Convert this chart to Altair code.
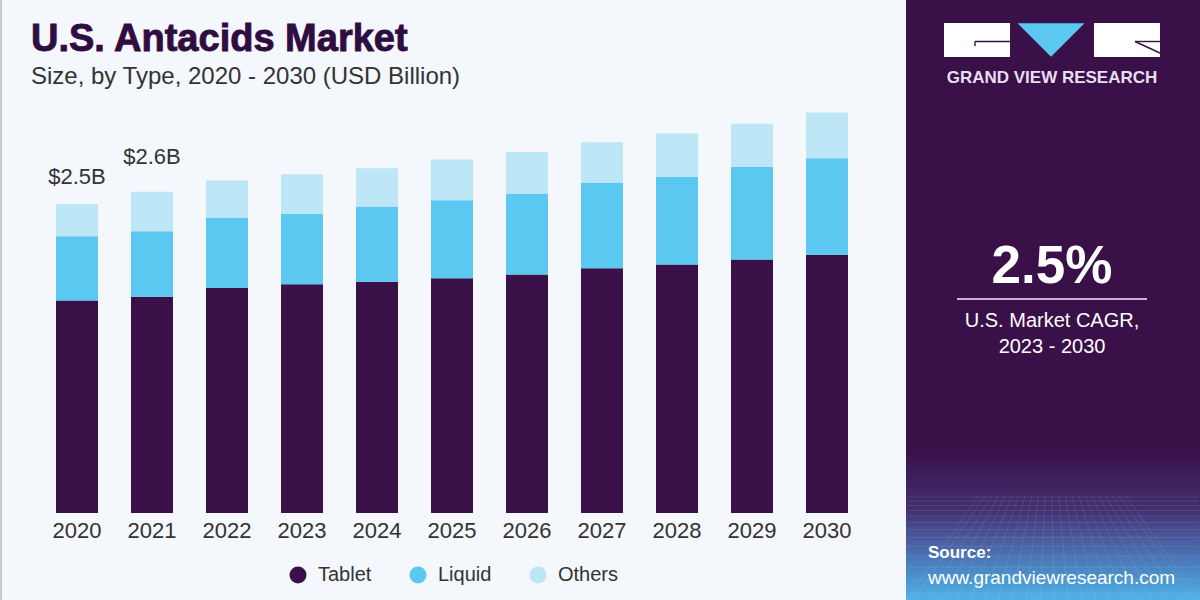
import altair as alt
import pandas as pd

# ---- data (USD billion) ----
years = ["2020", "2021", "2022", "2023", "2024", "2025", "2026", "2027", "2028", "2029", "2030"]
tablet = [1.72, 1.75, 1.82, 1.85, 1.87, 1.90, 1.93, 1.98, 2.01, 2.05, 2.09]
liquid = [0.52, 0.53, 0.57, 0.57, 0.61, 0.63, 0.65, 0.69, 0.71, 0.75, 0.78]
others = [0.26, 0.32, 0.30, 0.32, 0.31, 0.33, 0.34, 0.33, 0.35, 0.35, 0.37]
segments = ["Tablet", "Liquid", "Others"]
seg_colors = ["#3a1048", "#5bc8f2", "#bde6f7"]
labeled_years = ["2020", "2021"]

FONT = "Liberation Sans"
BG = "#f4f7fb"
PANEL = "#3a1049"

rows = []
for i, y in enumerate(years):
    for k, (name, vals) in enumerate(zip(segments, [tablet, liquid, others])):
        rows.append({"year": y, "type": name, "value": vals[i], "order": k})
long_df = pd.DataFrame(rows)
totals_df = pd.DataFrame({
    "year": years,
    "total": [round(a + b + c, 2) for a, b, c in zip(tablet, liquid, others)],
})

x_scale = alt.Scale(domain=years, range=[56, 848], paddingInner=0.44, paddingOuter=0)
y_scale = alt.Scale(domain=[0, 3.5], range=[513, 80.4])

# ---- stacked bars ----
bars = alt.Chart(long_df).mark_bar().encode(
    x=alt.X("year:N", scale=x_scale, axis=None),
    y=alt.Y("value:Q", stack="zero", scale=y_scale, axis=None),
    color=alt.Color(
        "type:N",
        scale=alt.Scale(domain=segments, range=seg_colors),
        legend=alt.Legend(
            orient="none", legendX=288, legendY=565, direction="horizontal",
            title=None, symbolType="circle", symbolSize=289, symbolStrokeWidth=0,
            symbolOpacity=1, labelFont=FONT, labelFontSize=20, labelColor="#333333",
            labelOffset=10, columnPadding=36,
        ),
    ),
    order=alt.Order("order:Q"),
)

# year labels under the bars
year_labels = alt.Chart(totals_df).mark_text(
    font=FONT, fontSize=22, color="#333333", baseline="middle"
).encode(
    x=alt.X("year:N", scale=x_scale, axis=None),
    y=alt.value(531),
    text="year:N",
)

# total value labels
def total_label(year, dy):
    return alt.Chart(totals_df).transform_filter(
        alt.datum.year == year
    ).transform_calculate(
        lbl="'$' + format(datum.total, '.1f') + 'B'"
    ).mark_text(
        font=FONT, fontSize=22, color="#333333", baseline="middle", dy=dy
    ).encode(
        x=alt.X("year:N", scale=x_scale, axis=None),
        y=alt.Y("total:Q", scale=y_scale, axis=None),
        text="lbl:N",
    )

total_labels = [total_label(labeled_years[0], -27), total_label(labeled_years[1], -35)]

# ---- titles ----
one = pd.DataFrame({"k": [0]})

def txt(text, x, y, size, color, weight="normal", align="left", font=FONT, stroke=0):
    props = dict(
        text=text, font=font, fontSize=size, fontWeight=weight, color=color,
        align=align, baseline="middle",
    )
    if stroke:
        props.update(stroke=color, strokeWidth=stroke)
    return alt.Chart(one).mark_text(**props).encode(x=alt.value(x), y=alt.value(y))

title = txt("U.S. Antacids Market", 31, 40, 38, "#2f0d40", weight="bold", stroke=0.9)
subtitle = txt("Size, by Type, 2020 - 2030 (USD Billion)", 31, 77, 24, "#333333")

left_border = alt.Chart(one).mark_rule(color="#c9c9cf", strokeWidth=2).encode(
    x=alt.value(1), y=alt.value(0), y2=alt.value(600)
)

# ---- right panel ----
panel = alt.Chart(one).mark_rect(color=PANEL).encode(
    x=alt.value(906), x2=alt.value(1200), y=alt.value(0), y2=alt.value(600)
)
panel_fade = alt.Chart(one).mark_rect(
    color=alt.Gradient(
        gradient="linear", x1=0, x2=0, y1=0, y2=1,
        stops=[
            alt.GradientStop(offset=0, color=PANEL),
            alt.GradientStop(offset=0.4, color="#433070"),
            alt.GradientStop(offset=0.6, color="#4a5c9e"),
            alt.GradientStop(offset=0.82, color="#4a8cc8"),
            alt.GradientStop(offset=1, color="#50b2e6"),
        ],
    )
).encode(x=alt.value(906), x2=alt.value(1200), y=alt.value(450), y2=alt.value(600))

# faint mesh texture in the lower part of the panel
mesh_rows = []
vx, vy = 1050, 400
for bx in range(900, 1215, 14):
    t = (496 - vy) / (600 - vy)
    x_top = vx + (bx - vx) * t
    x0, x1 = max(907, min(1199, x_top)), max(907, min(1199, bx))
    mesh_rows.append({"x": x0, "x2": x1, "y": 496, "y2": 600})
y_line = 497.0
step = 4.0
while y_line < 600:
    mesh_rows.append({"x": 907, "x2": 1199, "y": y_line, "y2": y_line})
    y_line += step
    step *= 1.12
mesh_df = pd.DataFrame(mesh_rows)
mesh = alt.Chart(mesh_df).mark_rule(color="white", strokeWidth=0.8, opacity=0.12).encode(
    x=alt.X("x:Q", scale=None), x2="x2:Q",
    y=alt.Y("y:Q", scale=None), y2="y2:Q",
)

# logo
logo_left = alt.Chart(one).mark_rect(color="white").encode(
    x=alt.value(944), x2=alt.value(1010), y=alt.value(23), y2=alt.value(57)
)
logo_right = alt.Chart(one).mark_rect(color="white").encode(
    x=alt.value(1094), x2=alt.value(1160), y=alt.value(23), y2=alt.value(57)
)
logo_tri = alt.Chart(one).mark_point(
    shape="M -1 -0.5 L 1 -0.5 L 0 0.5 Z", filled=True, color="#5bc8f2", opacity=1, size=4489
).encode(x=alt.value(1051), y=alt.value(40))
logo_lines = alt.Chart(pd.DataFrame({
    "x": [975, 975, 1135, 1135],
    "x2": [1010, 975, 1160, 1160],
    "y": [41.5, 41.5, 41.5, 41.5],
    "y2": [41.5, 46, 41.5, 53],
})).mark_rule(color=PANEL, strokeWidth=1.4).encode(
    x=alt.X("x:Q", scale=None), x2="x2:Q",
    y=alt.Y("y:Q", scale=None), y2="y2:Q",
)
brand = txt("GRAND VIEW RESEARCH", 1052, 78, 17, "#e8def0", weight="bold", align="center")

cagr = txt("2.5%", 1052, 267, 53, "white", weight="bold", align="center")
cagr_rule = alt.Chart(one).mark_rule(color="#c7b2de", strokeWidth=2).encode(
    x=alt.value(957), x2=alt.value(1147), y=alt.value(299)
)
cagr_l1 = txt("U.S. Market CAGR,", 1052, 321, 20, "white", align="center")
cagr_l2 = txt("2023 - 2030", 1052, 347, 20, "white", align="center")

src1 = txt("Source:", 928, 553, 17, "white", weight="bold")
src2 = txt("www.grandviewresearch.com", 928, 578, 19, "white")

chart = alt.layer(
    left_border, title, subtitle,
    bars, year_labels, *total_labels,
    panel, panel_fade, mesh,
    logo_left, logo_right, logo_tri, logo_lines, brand,
    cagr, cagr_rule, cagr_l1, cagr_l2, src1, src2,
).properties(
    width=1200, height=600, padding=0,
    autosize=alt.AutoSizeParams(type="none"),
    background=BG,
).configure_view(stroke=None)

chart.save("out.html", embed_options={"renderer": "svg", "actions": False})
